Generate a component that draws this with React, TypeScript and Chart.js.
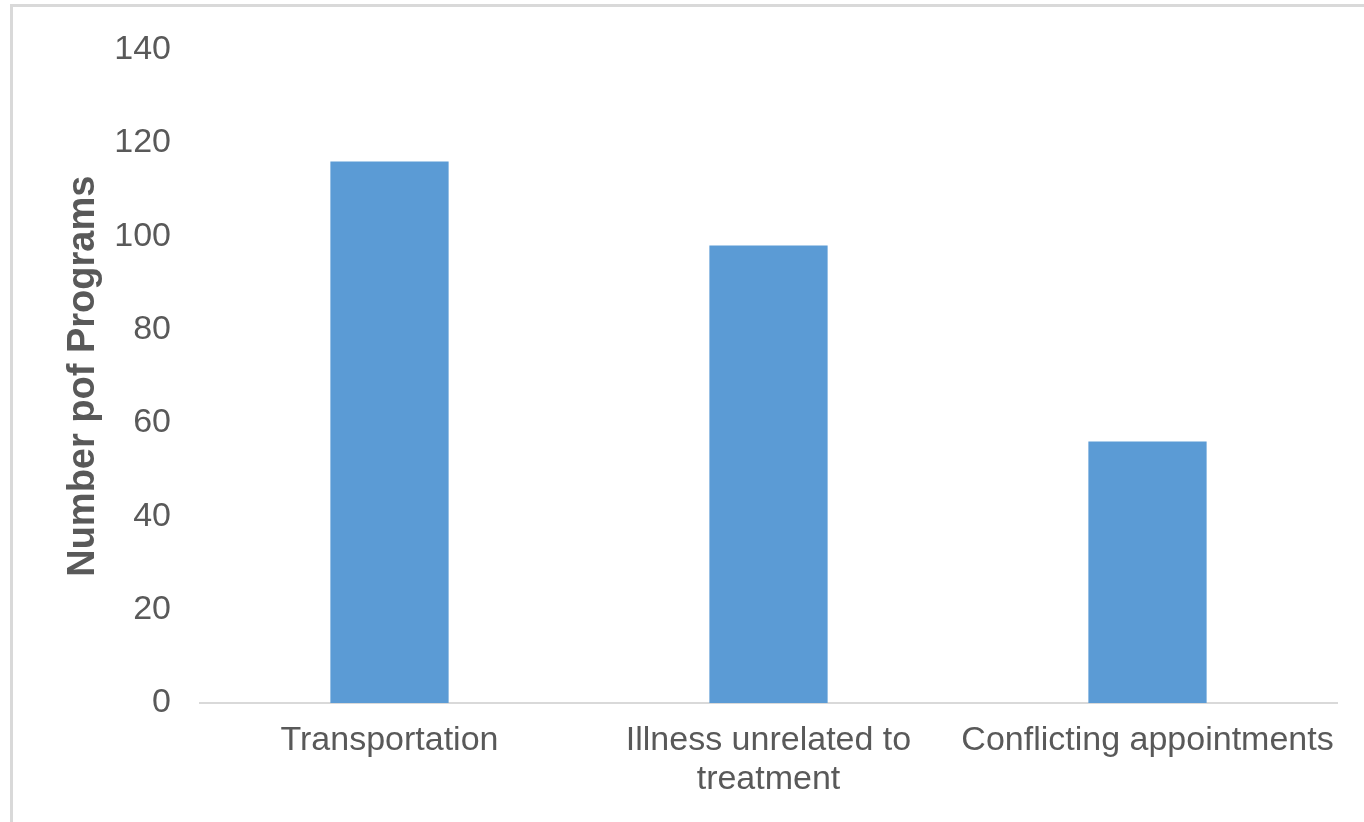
import React, { useEffect, useRef } from "react";
import { Chart, registerables } from "chart.js";

Chart.register(...registerables);

const categories: (string | string[])[] = [
  "Transportation",
  ["Illness unrelated to", "treatment"],
  "Conflicting appointments",
];
const programCounts: number[] = [116, 98, 56];
const yAxisTitle = "Number pof Programs";
const yMin = 0;
const yMax = 140;
const yStep = 20;

const TEXT = "#595959";
const LINE = "#d9d9d9";
const BAR = "#5B9BD5";
const FONT = "'Liberation Sans', Arial, sans-serif";

const frameBorder = {
  id: "frameBorder",
  afterDraw(chart: any) {
    const { ctx, width, height } = chart;
    ctx.save();
    ctx.strokeStyle = LINE;
    ctx.lineWidth = 3;
    ctx.beginPath();
    ctx.moveTo(11.5, height + 10);
    ctx.lineTo(11.5, 5.5);
    ctx.lineTo(width + 10, 5.5);
    ctx.stroke();
    ctx.restore();
  },
};

export default function App() {
  const ref = useRef<HTMLCanvasElement | null>(null);

  useEffect(() => {
    if (!ref.current) return;
    const chart = new Chart(ref.current, {
      type: "bar",
      data: {
        labels: categories,
        datasets: [
          {
            data: programCounts,
            backgroundColor: BAR,
            borderWidth: 0,
            barPercentage: 0.312,
            categoryPercentage: 1,
          },
        ],
      },
      options: {
        responsive: false,
        animation: false,
        layout: { padding: { left: 50, top: 43, right: 27, bottom: 0 } },
        plugins: {
          legend: { display: false },
          tooltip: { enabled: false },
        },
        scales: {
          x: {
            grid: { display: false, drawTicks: false },
            border: { display: true, color: LINE, width: 2 },
            ticks: {
              color: TEXT,
              font: { family: FONT, size: 34, lineHeight: 1.15 },
              padding: 18,
              maxRotation: 0,
              autoSkip: false,
            },
            afterFit: (scale: any) => {
              scale.height = 119;
            },
          },
          y: {
            min: yMin,
            max: yMax,
            grid: { display: false, drawTicks: false },
            border: { display: false },
            ticks: {
              stepSize: yStep,
              color: TEXT,
              font: { family: FONT, size: 34 },
              padding: 29,
            },
            title: {
              display: true,
              text: yAxisTitle,
              color: TEXT,
              font: { family: FONT, size: 38, weight: "bold" },
              padding: { top: 11, bottom: 0 },
            },
            afterFit: (scale: any) => {
              scale.width = 150;
            },
          },
        },
      },
      plugins: [frameBorder],
    });
    return () => chart.destroy();
  }, []);

  return (
    <canvas
      ref={ref}
      width={1364}
      height={822}
      style={{ position: "absolute", left: 0, top: 0, display: "block" }}
    />
  );
}
